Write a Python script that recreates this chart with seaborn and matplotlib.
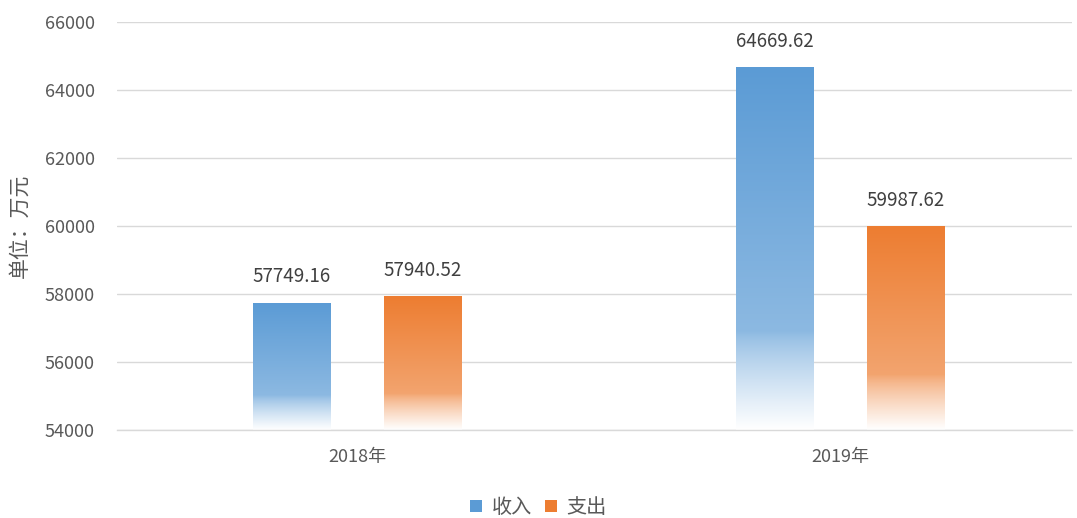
import numpy as np
import pandas as pd
import matplotlib
matplotlib.use("Agg")
import matplotlib.pyplot as plt
import seaborn as sns
from matplotlib.colors import to_rgb
from matplotlib.patches import Patch

years = ["2018年", "2019年"]
series = ["收入", "支出"]
income = [57749.16, 64669.62]
expense = [57940.52, 59987.62]
colors = {"收入": "#5B9BD5", "支出": "#ED7D31"}

df = pd.DataFrame({
    "year": years * 2,
    "series": [series[0]] * 2 + [series[1]] * 2,
    "value": income + expense,
})

sns.set_theme(style="white")
plt.rcParams['font.family'] = ['Noto Sans CJK SC', 'DejaVu Sans']

fig = plt.figure(figsize=(10.77, 5.18), dpi=100)
ax = fig.add_axes([117/1077, 88/518, 955/1077, 408/518])

sns.barplot(data=df, x="year", y="value", hue="series", order=years,
            hue_order=series, palette=colors, width=0.543, ax=ax,
            legend=False, errorbar=None, saturation=1)

ymin = 54000
ax.set_ylim(ymin, 66000)
ax.set_xlim(-0.497, 1.48)
ax.set_yticks(np.arange(54000, 66001, 2000))
ax.grid(axis="y", color="#D9D9D9", linewidth=1)
ax.set_axisbelow(True)
for s in ["top", "right", "left"]:
    ax.spines[s].set_visible(False)
ax.spines["bottom"].set_color("#D9D9D9")
ax.spines["bottom"].set_linewidth(1)
ax.tick_params(axis="both", length=0, colors="#595959", labelsize=13)
ax.tick_params(axis="x", pad=13)
ax.tick_params(axis="y", pad=16)
ax.set_xlabel("")
ax.set_ylabel("单位：万元", color="#595959", fontsize=15, labelpad=10)

bar_w = 0.16
for patch in ax.patches:
    x, w = patch.get_x(), patch.get_width()
    top = patch.get_y() + patch.get_height()
    cx = x + w / 2
    patch.set_x(cx - bar_w / 2)
    patch.set_width(bar_w)
    base = np.array(to_rgb(patch.get_facecolor()))
    n = 256
    t = np.linspace(0, 1, n)  # 0 top -> 1 bottom
    whit = np.where(t < 0.73, 0.30 * t / 0.73,
                    0.30 + 0.70 * ((t - 0.73) / 0.27) ** 0.8)
    whit = np.clip(whit, 0, 1)
    rgb = base[None, :] * (1 - whit[:, None]) + whit[:, None]
    img = rgb[:, None, :]
    im = ax.imshow(img, extent=[cx - bar_w / 2, cx + bar_w / 2, ymin, top],
                   aspect="auto", zorder=2, origin="upper",
                   interpolation="bilinear")
    im.set_clip_path(patch)
    patch.set_facecolor("none")
    patch.set_edgecolor("none")
    ax.annotate(f"{top:.2f}", (cx, top), xytext=(0, 11),
                textcoords="offset points", ha="center", va="bottom",
                fontsize=13.5, color="#404040")

ax.set_xlim(-0.497, 1.48)
ax.set_ylim(ymin, 66000)

handles = [Patch(facecolor=colors[s], edgecolor="none") for s in series]
fig.legend(handles, series, loc="lower center", bbox_to_anchor=(0.5, -0.035),
           ncol=2, frameon=False, fontsize=14.5, handlelength=0.6,
           handleheight=0.6, handletextpad=0.5, columnspacing=0.6,
           labelcolor="#595959")

fig.savefig("out.png", dpi=100)
